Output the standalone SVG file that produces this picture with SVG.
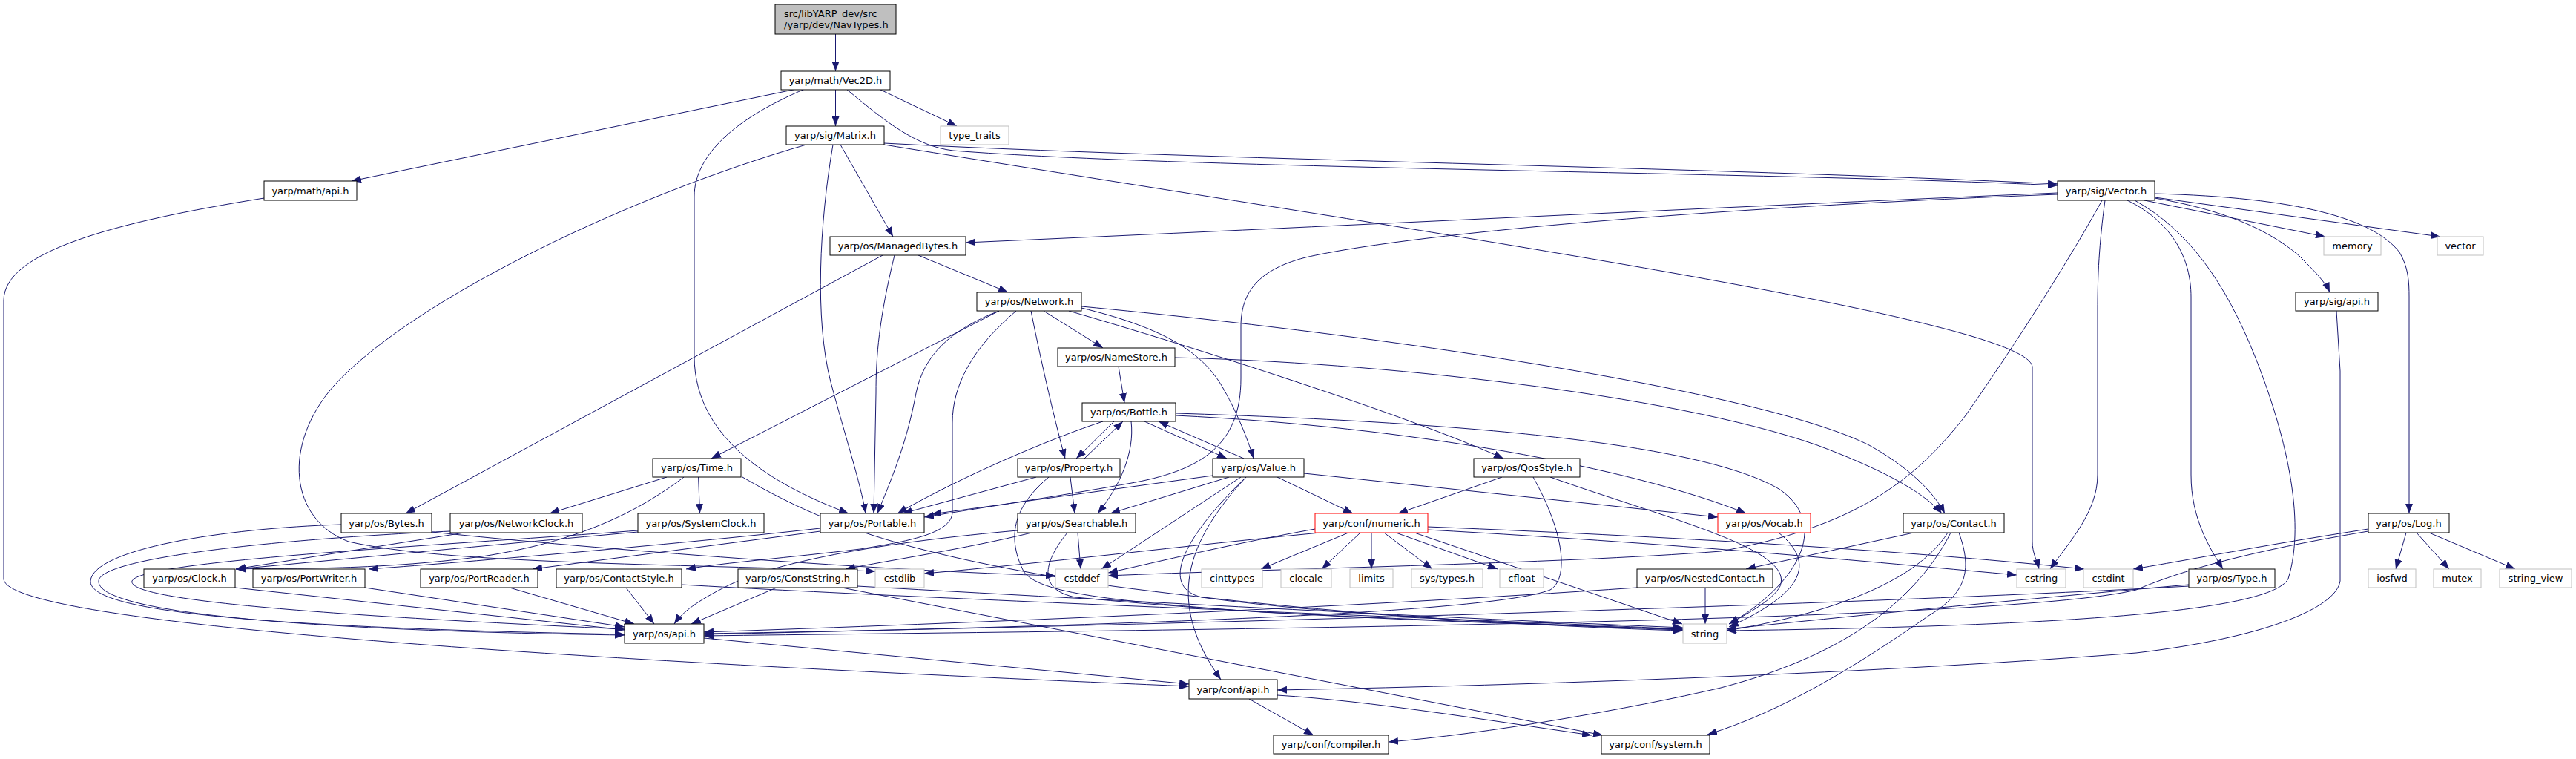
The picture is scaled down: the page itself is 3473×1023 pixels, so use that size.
<svg xmlns="http://www.w3.org/2000/svg" width="3473" height="1023" viewBox="0 0 3473 1023">
<defs>
<marker id="a" viewBox="0 0 13 10" refX="13" refY="5" markerWidth="13" markerHeight="10" markerUnits="userSpaceOnUse" orient="auto"><path d="M0,0 L13,5 L0,10 z" fill="#191970"/></marker>
<style>
rect{fill:#fff;stroke:#000;stroke-width:1}
.root rect{fill:#bfbfbf}
.ext rect{stroke:#bfbfbf}
.red rect{stroke:#f00}
text{font-family:"DejaVu Sans",sans-serif;font-size:13px;text-anchor:middle;fill:#000}
.root text{text-anchor:start}
#edges path{fill:none;stroke:#191970;stroke-width:1;marker-end:url(#a)}
</style>
</defs>
<rect x="0" y="0" width="3473" height="1023" style="fill:#fff;stroke:none"/>
<g id="edges">
<path d="M1126.5,46 L1126.5,96"/>
<path d="M1074,120 L474,244"/>
<path d="M1126.5,120 L1126.5,170"/>
<path d="M1185,120 L1290,170"/>
<path d="M1141,120 C1195,165 1235,197 1285,203 C1600,228 2400,232 2774,250"/>
<path d="M1085,120 C990,160 936,210 936,265 L936,480 C936,600 1060,660 1144,692"/>
<path d="M1192,193 C1600,215 2300,225 2774,248"/>
<path d="M1192,195 C1900,310 2740,430 2740,495 L2740,730 C2740,745 2746,755 2749,767"/>
<path d="M1133,195 L1204,319"/>
<path d="M1123,195 C1105,300 1098,430 1120,515 C1140,590 1160,650 1167,692"/>
<path d="M1087,195 C860,260 560,400 450,520 C380,600 390,700 470,730 C600,760 900,760 1180,770"/>
<path d="M356,267 C150,300 5,340 5,405 L5,780 C5,850 1000,900 1603,925"/>
<path d="M1238,344 L1359,394"/>
<path d="M1190,344 L547,692"/>
<path d="M1206,344 C1185,430 1181,480 1181,530 L1178,692"/>
<path d="M2774,260 C2300,280 1800,305 1302,327"/>
<path d="M2774,262 C2300,280 1900,315 1760,347 C1690,365 1673,400 1673,440 L1673,510 C1673,600 1620,635 1520,652 C1420,670 1300,688 1246,697"/>
<path d="M2891,270 L3135,319"/>
<path d="M2905,266 L3290,319"/>
<path d="M2905,267 C3010,285 3065,315 3100,345 C3120,365 3135,380 3141,394"/>
<path d="M2905,261 C3100,266 3200,295 3235,340 C3247,360 3248,380 3248,400 L3248,692"/>
<path d="M2868,270 C2930,300 2954,350 2954,400 L2954,640 C2954,700 2980,740 2997,767"/>
<path d="M2878,270 C2950,310 3000,380 3040,480 C3080,580 3110,700 3085,780 C3060,830 2700,845 2328,850"/>
<path d="M2838,270 C2830,330 2828,370 2828,420 L2828,640 C2828,690 2790,730 2764,767"/>
<path d="M2834,270 C2790,350 2720,460 2650,560 C2580,650 2500,710 2320,743 C2100,760 1700,767 1494,776"/>
<path d="M1347,419 L959,618"/>
<path d="M1347,419 C1280,445 1245,480 1235,530 C1222,600 1200,650 1183,692"/>
<path d="M1370,419 C1310,470 1284,520 1284,570 L1284,690 C1284,720 1220,730 1160,740 C1060,752 980,758 925,767"/>
<path d="M1390,419 C1400,470 1420,560 1436,618"/>
<path d="M1407,419 L1487,469"/>
<path d="M1441,419 C1600,465 1900,560 2027,618"/>
<path d="M1458,415 C1560,440 1620,470 1650,525 C1670,560 1685,600 1690,618"/>
<path d="M1458,413 C1900,455 2380,530 2520,600 C2570,628 2605,660 2622,692"/>
<path d="M1584,482 C1850,488 2250,530 2450,600 C2530,630 2590,660 2618,692"/>
<path d="M1508,494 L1516,543"/>
<path d="M899,643 L741,692"/>
<path d="M941.6,643 L943.5,692"/>
<path d="M922,643 C860,690 780,730 650,750 C500,770 380,765 318,767"/>
<path d="M1001,643 C1100,700 1200,745 1500,790 C1800,830 2100,845 2269,850"/>
<path d="M460,707 C300,712 126,740 122,783 C120,820 300,845 842,855"/>
<path d="M582,717 C800,740 1200,770 1423,776"/>
<path d="M626,718 L318,767"/>
<path d="M607,716 C400,725 135,750 133,783 C130,825 400,850 842,856"/>
<path d="M860,717 C600,740 400,760 318,767"/>
<path d="M860,715 C600,735 190,755 178,783 C170,810 450,830 842,848"/>
<path d="M1106,712 C900,735 600,760 497,767"/>
<path d="M1106,716 L718,767"/>
<path d="M317,792 L842,849"/>
<path d="M492,792 L842,845"/>
<path d="M687,792 L855,841"/>
<path d="M844,792 L882,841"/>
<path d="M1047,792 L932,841"/>
<path d="M919,788 C1300,810 2000,835 2269,848"/>
<path d="M1135,792 L2161,991"/>
<path d="M1156,790 C1600,815 2000,835 2269,846"/>
<path d="M1372,715 C1200,730 1050,755 980,790 C940,810 920,825 909,841"/>
<path d="M1391,718 C1300,740 1200,755 1140,767"/>
<path d="M1453,718 L1457,767"/>
<path d="M1439,718 C1405,760 1400,795 1450,805 C1700,830 2000,840 2269,848"/>
<path d="M1487,568 C1420,590 1300,640 1210,692"/>
<path d="M1502,568 L1451,618"/>
<path d="M1462,618 L1514,568"/>
<path d="M1525,568 C1530,610 1510,655 1480,692"/>
<path d="M1543,568 L1654,618"/>
<path d="M1677,618 L1562,568"/>
<path d="M1585,557 C2000,570 2300,600 2400,660 C2470,710 2420,790 2331,841"/>
<path d="M1585,560 C1900,575 2200,630 2354,692"/>
<path d="M1397,643 L1217,692"/>
<path d="M1443,643 L1449,692"/>
<path d="M1414,643 C1370,680 1355,720 1380,770 C1400,800 1500,810 1700,825 C2000,840 2200,845 2269,849"/>
<path d="M1635,641 L1256,693"/>
<path d="M1657,643 L1497,692"/>
<path d="M1673,643 L1485,767"/>
<path d="M1680,643 C1600,730 1570,810 1646,916"/>
<path d="M1680,643 C1600,720 1560,790 1620,805 C1800,830 2100,843 2269,849"/>
<path d="M1722,643 L1824,692"/>
<path d="M1758,638 L2316,697"/>
<path d="M2025,643 L1885,692"/>
<path d="M2067,643 C2110,720 2115,780 2090,795 C2000,830 1400,845 949,855"/>
<path d="M2090,643 C2250,700 2420,740 2400,790 C2390,810 2350,830 2331,841"/>
<path d="M1780,718 C1600,735 1400,760 1246,773"/>
<path d="M1773,713 C1650,735 1550,760 1494,772"/>
<path d="M1818,718 L1700,767"/>
<path d="M1834,718 L1782,767"/>
<path d="M1849,718 L1849,767"/>
<path d="M1866,718 L1931,767"/>
<path d="M1882,718 L2019,767"/>
<path d="M1907,718 L2268,841"/>
<path d="M1925,710 C2300,725 2600,745 2810,767"/>
<path d="M1925,714 C2300,735 2550,760 2719,775"/>
<path d="M2398,718 C2450,760 2430,800 2331,845"/>
<path d="M2580,718 L2354,767"/>
<path d="M2626,718 C2580,790 2450,830 2328,850"/>
<path d="M2630,718 C2588,800 2500,880 2320,927 C2200,955 2000,990 1872,1000"/>
<path d="M2641,718 C2660,770 2650,800 2600,830 C2500,900 2400,960 2302,990"/>
<path d="M2299,792 L2299,841"/>
<path d="M2207,792 C1800,820 1300,840 949,852"/>
<path d="M2951,790 C2500,815 1500,845 949,854"/>
<path d="M2951,788 C2700,810 2450,835 2328,848"/>
<path d="M3244,718 L3230,767"/>
<path d="M3258,718 L3302,767"/>
<path d="M3275,718 L3391,767"/>
<path d="M3193,713 C3050,735 2950,755 2876,767"/>
<path d="M3193,716 C3050,740 2950,765 2880,795 C2700,840 1500,850 949,857"/>
<path d="M3150,419 L3155,500 L3155,783 C3150,820 3050,860 2880,880 C2500,910 2000,925 1722,930"/>
<path d="M949,860 L1603,922"/>
<path d="M1684,942 L1771,991"/>
<path d="M1722,937 C1850,945 2000,970 2146,991"/>
</g>
<g id="n_root" class="root"><rect x="1045" y="6" width="163" height="40"/><text x="1057" y="22.5">src/libYARP_dev/src</text><text x="1057" y="38">/yarp/dev/NavTypes.h</text></g>
<g id="n_vec2d"><rect x="1053" y="96" width="147" height="25"/><text x="1126.5" y="113">yarp/math/Vec2D.h</text></g>
<g id="n_matrix"><rect x="1060" y="170" width="132" height="25"/><text x="1126" y="187">yarp/sig/Matrix.h</text></g>
<g id="n_type_traits" class="ext"><rect x="1268" y="170" width="92" height="25"/><text x="1314" y="187">type_traits</text></g>
<g id="n_math_api"><rect x="356" y="244" width="125" height="26"/><text x="418.5" y="261.5">yarp/math/api.h</text></g>
<g id="n_vector"><rect x="2774" y="244" width="131" height="26"/><text x="2839.5" y="261.5">yarp/sig/Vector.h</text></g>
<g id="n_managedbytes"><rect x="1119" y="319" width="183" height="25"/><text x="1210.5" y="336">yarp/os/ManagedBytes.h</text></g>
<g id="n_memory" class="ext"><rect x="3133" y="319" width="77" height="25"/><text x="3171.5" y="336">memory</text></g>
<g id="n_vectorstd" class="ext"><rect x="3286" y="319" width="62" height="25"/><text x="3317" y="336">vector</text></g>
<g id="n_network"><rect x="1317" y="394" width="141" height="25"/><text x="1387.5" y="411">yarp/os/Network.h</text></g>
<g id="n_sig_api"><rect x="3095" y="394" width="111" height="25"/><text x="3150.5" y="411">yarp/sig/api.h</text></g>
<g id="n_namestore"><rect x="1426" y="469" width="158" height="25"/><text x="1505" y="486">yarp/os/NameStore.h</text></g>
<g id="n_bottle"><rect x="1459" y="543" width="126" height="25"/><text x="1522" y="560">yarp/os/Bottle.h</text></g>
<g id="n_time"><rect x="880" y="618" width="119" height="25"/><text x="939.5" y="635">yarp/os/Time.h</text></g>
<g id="n_property"><rect x="1372" y="618" width="138" height="25"/><text x="1441" y="635">yarp/os/Property.h</text></g>
<g id="n_value"><rect x="1635" y="618" width="123" height="25"/><text x="1696.5" y="635">yarp/os/Value.h</text></g>
<g id="n_qosstyle"><rect x="1987" y="618" width="143" height="25"/><text x="2058.5" y="635">yarp/os/QosStyle.h</text></g>
<g id="n_bytes"><rect x="460" y="692" width="122" height="26"/><text x="521" y="709.5">yarp/os/Bytes.h</text></g>
<g id="n_networkclock"><rect x="607" y="692" width="178" height="26"/><text x="696" y="709.5">yarp/os/NetworkClock.h</text></g>
<g id="n_systemclock"><rect x="860" y="692" width="170" height="26"/><text x="945" y="709.5">yarp/os/SystemClock.h</text></g>
<g id="n_portable"><rect x="1106" y="692" width="140" height="26"/><text x="1176" y="709.5">yarp/os/Portable.h</text></g>
<g id="n_searchable"><rect x="1372" y="692" width="159" height="26"/><text x="1451.5" y="709.5">yarp/os/Searchable.h</text></g>
<g id="n_numeric" class="red"><rect x="1773" y="692" width="152" height="26"/><text x="1849" y="709.5">yarp/conf/numeric.h</text></g>
<g id="n_vocab" class="red"><rect x="2316" y="692" width="125" height="26"/><text x="2378.5" y="709.5">yarp/os/Vocab.h</text></g>
<g id="n_contact"><rect x="2566" y="692" width="136" height="26"/><text x="2634" y="709.5">yarp/os/Contact.h</text></g>
<g id="n_log"><rect x="3193" y="692" width="109" height="26"/><text x="3247.5" y="709.5">yarp/os/Log.h</text></g>
<g id="n_clock"><rect x="194" y="767" width="123" height="25"/><text x="255.5" y="784">yarp/os/Clock.h</text></g>
<g id="n_portwriter"><rect x="341" y="767" width="151" height="25"/><text x="416.5" y="784">yarp/os/PortWriter.h</text></g>
<g id="n_portreader"><rect x="567" y="767" width="158" height="25"/><text x="646" y="784">yarp/os/PortReader.h</text></g>
<g id="n_contactstyle"><rect x="750" y="767" width="169" height="25"/><text x="834.5" y="784">yarp/os/ContactStyle.h</text></g>
<g id="n_conststring"><rect x="995" y="767" width="161" height="25"/><text x="1075.5" y="784">yarp/os/ConstString.h</text></g>
<g id="n_cstdlib" class="ext"><rect x="1180" y="767" width="66" height="25"/><text x="1213" y="784">cstdlib</text></g>
<g id="n_cstddef" class="ext"><rect x="1423" y="767" width="71" height="25"/><text x="1458.5" y="784">cstddef</text></g>
<g id="n_cinttypes" class="ext"><rect x="1620" y="767" width="82" height="25"/><text x="1661" y="784">cinttypes</text></g>
<g id="n_clocale" class="ext"><rect x="1727" y="767" width="68" height="25"/><text x="1761" y="784">clocale</text></g>
<g id="n_limits" class="ext"><rect x="1820" y="767" width="58" height="25"/><text x="1849" y="784">limits</text></g>
<g id="n_systypes" class="ext"><rect x="1903" y="767" width="96" height="25"/><text x="1951" y="784">sys/types.h</text></g>
<g id="n_cfloat" class="ext"><rect x="2022" y="767" width="59" height="25"/><text x="2051.5" y="784">cfloat</text></g>
<g id="n_nestedcontact"><rect x="2207" y="767" width="183" height="25"/><text x="2298.5" y="784">yarp/os/NestedContact.h</text></g>
<g id="n_cstring" class="ext"><rect x="2719" y="767" width="66" height="25"/><text x="2752" y="784">cstring</text></g>
<g id="n_cstdint" class="ext"><rect x="2809" y="767" width="67" height="25"/><text x="2842.5" y="784">cstdint</text></g>
<g id="n_type"><rect x="2951" y="767" width="116" height="25"/><text x="3009" y="784">yarp/os/Type.h</text></g>
<g id="n_iosfwd" class="ext"><rect x="3193" y="767" width="64" height="25"/><text x="3225" y="784">iosfwd</text></g>
<g id="n_mutex" class="ext"><rect x="3281" y="767" width="64" height="25"/><text x="3313" y="784">mutex</text></g>
<g id="n_string_view" class="ext"><rect x="3370" y="767" width="97" height="25"/><text x="3418.5" y="784">string_view</text></g>
<g id="n_os_api"><rect x="842" y="841" width="107" height="26"/><text x="895.5" y="858.5">yarp/os/api.h</text></g>
<g id="n_string" class="ext"><rect x="2269" y="841" width="59" height="26"/><text x="2298.5" y="858.5">string</text></g>
<g id="n_conf_api"><rect x="1603" y="916" width="119" height="26"/><text x="1662.5" y="933.5">yarp/conf/api.h</text></g>
<g id="n_compiler"><rect x="1717" y="991" width="155" height="25"/><text x="1794.5" y="1008">yarp/conf/compiler.h</text></g>
<g id="n_system"><rect x="2159" y="991" width="146" height="25"/><text x="2232" y="1008">yarp/conf/system.h</text></g>
</svg>
